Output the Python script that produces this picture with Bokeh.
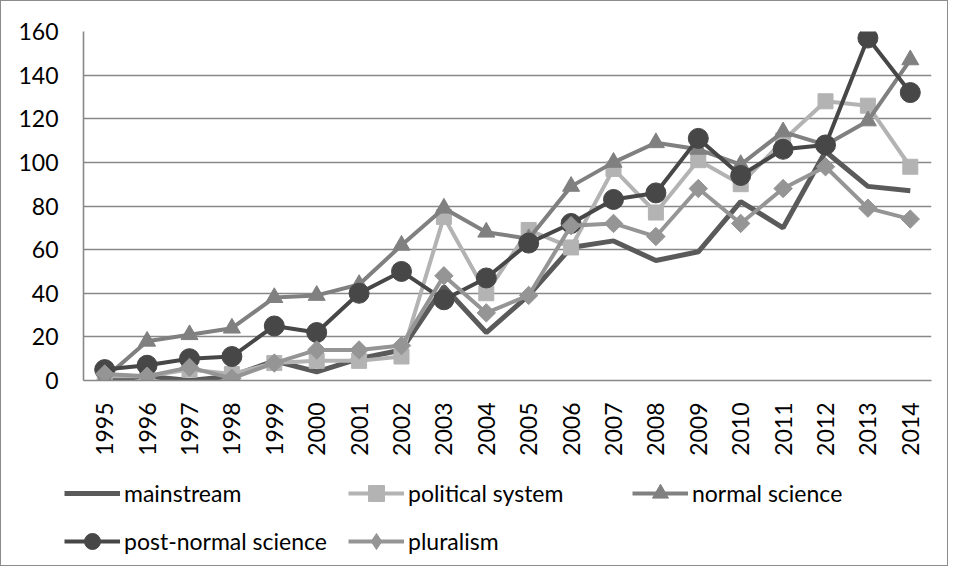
from bokeh.plotting import figure
from bokeh.models import Range1d, FactorRange, Legend, LegendItem
from bokeh.layouts import column
from bokeh.embed import file_html
from bokeh.resources import INLINE
import math

years = [str(y) for y in range(1995, 2015)]
mainstream = [0, 2, 0, 2, 9, 4, 10, 14, 43, 22, 39, 61, 64, 55, 59, 82, 70, 105, 89, 87]
political_system = [2, 2, 5, 3, 8, 9, 9, 11, 75, 40, 69, 61, 97, 77, 101, 90, 110, 128, 126, 98]
normal_science = [1, 18, 21, 24, 38, 39, 44, 62, 79, 68, 65, 89, 100, 109, 106, 99, 114, 108, 119, 147]
post_normal_science = [5, 7, 10, 11, 25, 22, 40, 50, 37, 47, 63, 72, 83, 86, 111, 94, 106, 108, 157, 132]
pluralism = [3, 2, 6, 1, 8, 14, 14, 16, 48, 31, 39, 71, 72, 66, 88, 72, 88, 98, 79, 74]
y_ticks = [0, 20, 40, 60, 80, 100, 120, 140, 160]

FONT = "Lato"
FS = "23px"

p = figure(width=946, height=462, x_range=FactorRange(*years, range_padding=0),
           y_range=Range1d(0, 160), output_backend="svg", toolbar_location=None,
           min_border_left=82, min_border_right=16, min_border_top=30, min_border_bottom=83)
p.outline_line_color = None
p.background_fill_color = "white"

p.xgrid.grid_line_color = None
p.ygrid.grid_line_color = "#888888"
p.ygrid.grid_line_width = 1.6
p.yaxis.ticker = y_ticks

for ax in (p.xaxis, p.yaxis):
    ax.axis_line_color = "#888888"
    ax.axis_line_width = 1.6
    ax.major_tick_line_color = None
    ax.minor_tick_line_color = None
    ax.major_label_text_font = FONT
    ax.major_label_text_font_size = FS
    ax.major_label_text_color = "#000000"
p.yaxis.major_label_standoff = 19
p.xaxis.major_label_standoff = 16
p.xaxis.major_label_orientation = math.pi / 2

# name, values, colour, line width, marker, size, angle, legend marker, legend size
series = [
    ("mainstream", mainstream, "#5a5a5a", 5, None, 0, 0, None, 0),
    ("political system", political_system, "#b3b3b3", 4, "square", 15, 0, "square", 14),
    ("normal science", normal_science, "#808080", 4, "triangle", 17, 0, "triangle", 15),
    ("post-normal science", post_normal_science, "#474747", 4, "circle", 20, 0, "circle", 16),
    ("pluralism", pluralism, "#959595", 4, "square", 13, math.pi / 4, "diamond", 18),
]

# legend strip below the chart (no axes, frame covers the whole strip)
p2 = figure(width=946, height=102, x_range=Range1d(0, 1), y_range=Range1d(0, 1),
            output_backend="svg", toolbar_location=None,
            x_axis_location=None, y_axis_location=None,
            min_border_left=0, min_border_right=0, min_border_top=0, min_border_bottom=0)
p2.grid.visible = False
p2.outline_line_color = None
for fig in (p, p2):
    try:
        fig.frame_align = False
    except Exception:
        pass

items = []
for name, vals, color, lw, marker, size, ang, lmarker, lsize in series:
    p.line(years, vals, line_color=color, line_width=lw)
    rs = [p2.line([-5, -4], [-5, -5], line_color=color, line_width=lw)]
    if marker:
        p.scatter(years, vals, marker=marker, size=size, angle=ang,
                  fill_color=color, line_color=color)
        rs.append(p2.scatter([-5], [-5], marker=lmarker, size=lsize,
                             fill_color=color, line_color=color))
    items.append(LegendItem(label=name, renderers=rs))

leg = Legend(items=items, location=(63, 4), orientation="horizontal", ncols=3,
             glyph_width=56, glyph_height=40, label_standoff=4, label_width=216, spacing=8,
             label_text_font=FONT, label_text_font_size=FS, label_text_color="#000000",
             padding=0, margin=0, border_line_color=None, background_fill_alpha=0)
p2.add_layout(leg, "center")

layout = column(p, p2, spacing=0, styles={"border": "1px solid #8c8c8c"})

open("out.html", "w").write(file_html(layout, INLINE))
